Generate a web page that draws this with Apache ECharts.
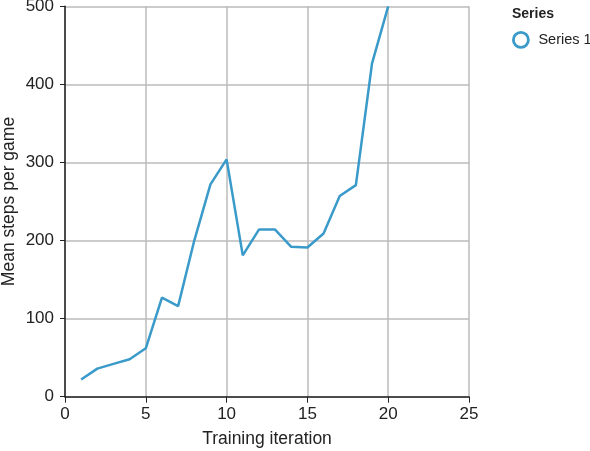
<!DOCTYPE html>
<html><head><meta charset="utf-8">
<script src="https://cdn.jsdelivr.net/npm/echarts@6/dist/echarts.min.js"></script>
<style>html,body{margin:0;padding:0;background:#fff}#c{width:590px;height:451px}</style>
</head><body><div id="c"></div>
<script>
const iterations = [1,2,3,4,5,6,7,8,9,10,11,12,13,14,15,16,17,18,19,20];
const meanSteps = [22,36,42,48,62,127,116,200,272,304,181,214,214,192,191,209,257,271,427,500];
const seriesName = 'Series 1';
const xTicks = {min:0, max:25, interval:5};
const yTicks = {min:0, max:500, interval:100};
const color = '#3a9ac9';
const font = 'Liberation Sans, Arial, Helvetica, sans-serif';
const chart = echarts.init(document.getElementById('c'));
chart.setOption({
  animation:false,
  title:{text:'Series', left:512, top:7, padding:0, textStyle:{fontFamily:font,fontSize:14,fontWeight:'bold',color:'#222'}},
  legend:{left:512, top:31, width:200, orient:'vertical', padding:0, itemWidth:15, itemHeight:15, itemGap:8,
    data:[{name:seriesName, icon:'circle'}],
    itemStyle:{color:'#fff', borderColor:color, borderWidth:2.8},
    textStyle:{fontFamily:font,fontSize:14.5,color:'#222', overflow:'none', padding:[0,0,0,5]}},
  grid:{left:65, right:121, top:6.3, bottom:54.3, containLabel:false, outerBoundsMode:'none'},
  xAxis:{type:'value', min:xTicks.min, max:xTicks.max, interval:xTicks.interval,
    name:'Training iteration', nameLocation:'middle', nameGap:33, nameMoveOverlap:false,
    nameTextStyle:{fontFamily:font,fontSize:17.5,color:'#222'},
    axisLine:{show:true,onZero:false,lineStyle:{color:'#222',width:1.5}},
    axisTick:{show:true,length:6,lineStyle:{color:'#222'}},
    axisLabel:{fontFamily:font,fontSize:17,color:'#222',margin:9},
    splitLine:{show:true,lineStyle:{color:'#bbb',width:1.5}}},
  yAxis:{type:'value', min:yTicks.min, max:yTicks.max, interval:yTicks.interval,
    name:'Mean steps per game', nameLocation:'middle', nameGap:47, nameMoveOverlap:false,
    nameTextStyle:{fontFamily:font,fontSize:17.5,color:'#222'},
    axisLine:{show:true,onZero:false,lineStyle:{color:'#222',width:1.5}},
    axisTick:{show:true,length:5,lineStyle:{color:'#222'}},
    axisLabel:{fontFamily:font,fontSize:17,color:'#222',margin:11},
    splitLine:{show:true,lineStyle:{color:'#bbb',width:1.5}}},
  series:[{type:'line', name:seriesName, data:iterations.map((x,i)=>[x,meanSteps[i]]),
    showSymbol:false, symbol:'none', lineStyle:{color:color,width:2.5}, itemStyle:{color:color}}]
});
</script></body></html>
